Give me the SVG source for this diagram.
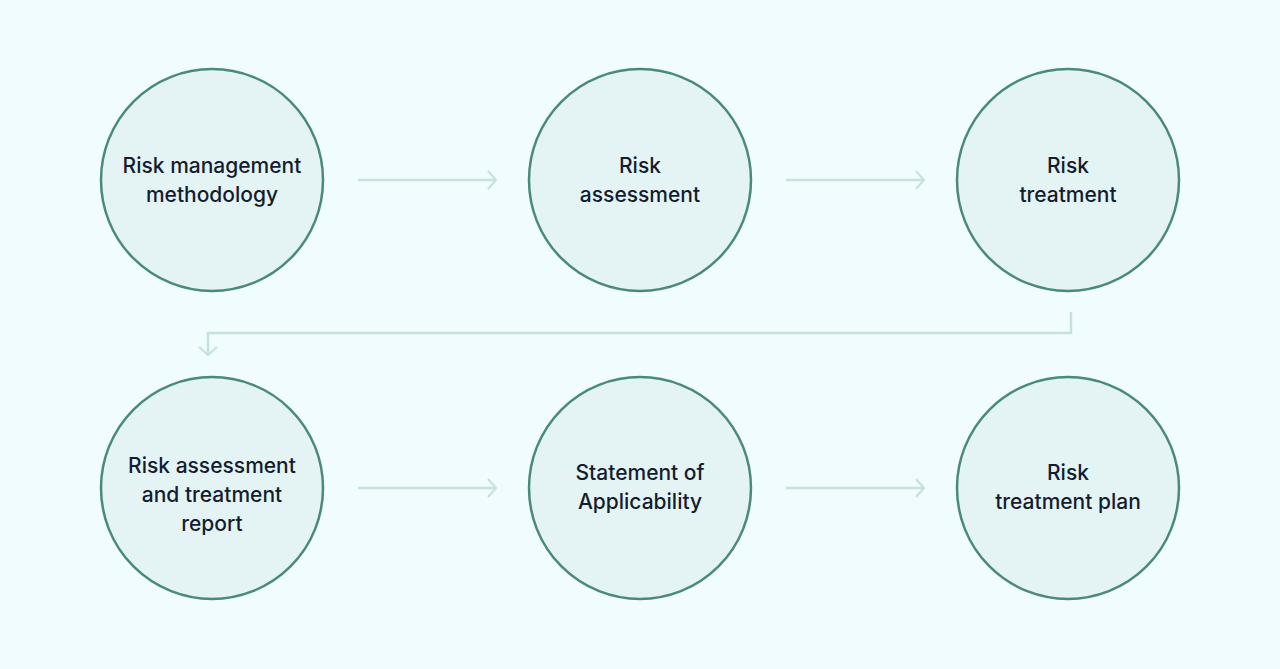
<svg xmlns="http://www.w3.org/2000/svg" width="1280" height="669" viewBox="0 0 1280 669">
<style>
.n{fill:#e4f4f5;stroke:#4a8a7c;stroke-width:2.5}
.t{font-family:Inter,"Liberation Sans",sans-serif;font-size:21px;font-weight:500;fill:#141c30;text-anchor:middle}
.c{fill:none;stroke:#c6e2dc;stroke-width:2.5}
</style>
<defs><marker id="a" viewBox="0 0 10 20" refX="9" refY="10" markerWidth="10" markerHeight="20" markerUnits="userSpaceOnUse" orient="auto"><path d="M1 1 L9 10 L1 19" fill="none" stroke="#c6e2dc" stroke-width="2.2"/></marker></defs>
<rect width="1280" height="669" fill="#f0fcfd"/>
<g id="connectors">
<path class="c" d="M358 180 H496" marker-end="url(#a)"/>
<path class="c" d="M786 180 H924" marker-end="url(#a)"/>
<path class="c" d="M1071 312 V333 H208 V355" marker-end="url(#a)"/>
<path class="c" d="M358 488 H496" marker-end="url(#a)"/>
<path class="c" d="M786 488 H924" marker-end="url(#a)"/>
</g>
<g id="n1"><circle class="n" cx="212" cy="180" r="111"/><text class="t" x="212" y="173">Risk management</text><text class="t" x="212" y="202">methodology</text></g>
<g id="n2"><circle class="n" cx="640" cy="180" r="111"/><text class="t" x="640" y="173">Risk</text><text class="t" x="640" y="202">assessment</text></g>
<g id="n3"><circle class="n" cx="1068" cy="180" r="111"/><text class="t" x="1068" y="173">Risk</text><text class="t" x="1068" y="202">treatment</text></g>
<g id="n4"><circle class="n" cx="212" cy="488" r="111"/><text class="t" x="212" y="473">Risk assessment</text><text class="t" x="212" y="502">and treatment</text><text class="t" x="212" y="531">report</text></g>
<g id="n5"><circle class="n" cx="640" cy="488" r="111"/><text class="t" x="640" y="480">Statement of</text><text class="t" x="640" y="509">Applicability</text></g>
<g id="n6"><circle class="n" cx="1068" cy="488" r="111"/><text class="t" x="1068" y="480">Risk</text><text class="t" x="1068" y="509">treatment plan</text></g>
</svg>
